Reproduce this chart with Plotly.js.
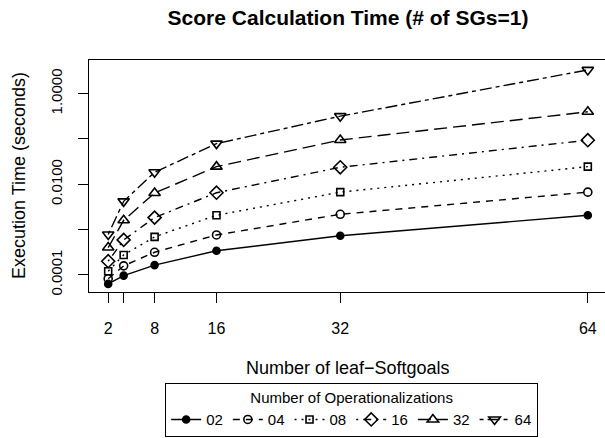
<!DOCTYPE html>
<html>
<head>
<meta charset="utf-8">
<script src="https://cdn.plot.ly/plotly-3.0.1.min.js"></script>
<style>
html, body { margin: 0; padding: 0; overflow: hidden; background: #fff; }
#chart { width: 608px; height: 438px; }
</style>
</head>
<body>
<div id="chart"></div>
<script>
// Number of leaf-Softgoals
const leafSoftgoals = [2, 4, 8, 16, 32, 64];
const xTickLabels = ['2', '', '8', '16', '32', '64'];

// Execution time (seconds) per number of operationalizations
const ops02 = [6.3e-5, 9.6e-5, 1.64e-4, 3.4e-4, 7.3e-4, 2.07e-3];
const ops04 = [8.2e-5, 1.58e-4, 3.15e-4, 7.6e-4, 2.17e-3, 6.7e-3];
const ops08 = [1.2e-4, 2.75e-4, 6.9e-4, 2.07e-3, 6.7e-3, 0.0245];
const ops16 = [2.0e-4, 5.9e-4, 1.84e-3, 6.5e-3, 0.0237, 0.094];
const ops32 = [4.0e-4, 1.6e-3, 6.4e-3, 0.0245, 0.095, 0.398];
const ops64 = [7.8e-4, 4.2e-3, 0.0184, 0.079, 0.319, 3.35];

const seriesNames = ['02', '04', '08', '16', '32', '64'];
const yTickVals = [1e-4, 1e-3, 1e-2, 1e-1, 1];
const yTickLabels = ['0.0001', '', '0.0100', '', '1.0000'];

const seriesData = [ops02, ops04, ops08, ops16, ops32, ops64];
const styles = [
  {dash: 'solid', symbol: 'circle', size: 7},
  {dash: '7px,6px', symbol: 'circle-open', size: 8},
  {dash: '2px,5px', symbol: 'square-open', size: 7},
  {dash: '2px,5px,8px,5px', symbol: 'diamond-open', size: 10},
  {dash: '13px,6px', symbol: 'triangle-up-open', size: 10},
  {dash: '4px,4px,12px,4px', symbol: 'triangle-down-open', size: 10}
];

const traces = seriesData.map((vals, i) => ({
  x: leafSoftgoals,
  y: vals,
  name: seriesNames[i],
  type: 'scatter',
  mode: 'lines+markers',
  line: {color: '#000', width: 1.4, dash: styles[i].dash},
  marker: {color: '#000', symbol: styles[i].symbol, size: styles[i].size,
           line: {color: '#000', width: 1.6}}
}));

const font = 'Liberation Sans, Arial, Helvetica, sans-serif';

const layout = {
  width: 608, height: 438,
  margin: {l: 89, r: 1, t: 60, b: 143},
  paper_bgcolor: '#fff', plot_bgcolor: '#fff',
  font: {family: font, color: '#000', size: 14},
  showlegend: true,
  title: {text: '<b>Score Calculation Time (# of SGs=1)</b>',
          font: {family: font, size: 21, color: '#000'},
          x: 0.5, xref: 'paper', xanchor: 'center', y: 0.96, yanchor: 'middle'},
  xaxis: {
    range: [-0.48, 66.48], tickvals: leafSoftgoals, ticktext: xTickLabels,
    ticks: 'outside', ticklen: 10, tickwidth: 1, tickcolor: '#000',
    showline: true, linecolor: '#000', linewidth: 1, mirror: true,
    showgrid: false, zeroline: false, ticklabelstandoff: 12,
    tickfont: {size: 16}
  },
  yaxis: {
    type: 'log', range: [-4.379, 0.744], tickvals: yTickVals, ticktext: yTickLabels,
    tickangle: -90,
    ticks: 'outside', ticklen: 10, tickwidth: 1, tickcolor: '#000',
    showline: true, linecolor: '#000', linewidth: 1, mirror: true,
    showgrid: false, zeroline: false, ticklabelstandoff: 10,
    tickfont: {size: 15}
  },
  annotations: [
    {text: 'Number of leaf\u2212Softgoals', xref: 'paper', yref: 'paper',
     x: 0.5, y: 0, yshift: -76, xanchor: 'center', yanchor: 'middle',
     showarrow: false, font: {size: 18}},
    {text: 'Execution Time (seconds)', xref: 'paper', yref: 'paper',
     x: 0, xshift: -70, y: 0.5, xanchor: 'center', yanchor: 'middle',
     textangle: -90, showarrow: false, font: {size: 18}}
  ],
  legend: {
    orientation: 'h', x: 0.147, xanchor: 'left', y: -0.391, yanchor: 'top',
    bordercolor: '#000', borderwidth: 1, bgcolor: '#fff',
    font: {size: 15},
    title: {text: 'Number of Operationalizations', side: 'top center', font: {size: 15}},
    itemwidth: 30
  }
};

Plotly.newPlot('chart', traces, layout, {staticPlot: true, displayModeBar: false});
</script>
</body>
</html>
